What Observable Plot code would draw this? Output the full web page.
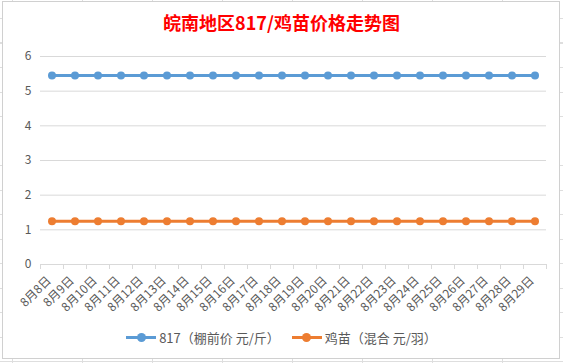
<!DOCTYPE html>
<html>
<head>
<meta charset="utf-8">
<script src="https://cdn.jsdelivr.net/npm/d3@7"></script>
<script src="https://cdn.jsdelivr.net/npm/@observablehq/plot@0.6"></script>
<style>
  html, body { margin: 0; padding: 0; background: #fff; }
  #page {
    position: relative; width: 563px; height: 363px; overflow: hidden;
    background-color: #fff;
    background-image:
      repeating-linear-gradient(to right, transparent 0 12px, #dedede 12px 13px, transparent 13px 70px),
      repeating-linear-gradient(to bottom, transparent 0 18px, #dedede 18px 19px, transparent 19px 24.5px);
    font-family: "Noto Sans CJK SC", "Noto Sans", sans-serif;
  }
  #chart {
    position: absolute; left: 2px; top: 1px; width: 556px; height: 356px;
    background: #fff; border: 1px solid #d0d0d0;
  }
  #title {
    position: absolute; left: 0; top: 10px; width: 563px; text-align: center;
    color: #ff0000; font-weight: bold; font-size: 18px; line-height: 24px;
    font-family: "Noto Sans CJK SC", sans-serif;
  }
  #plot { position: absolute; left: 0; top: 0; }
  #legend {
    position: absolute; left: 0; top: 327px; width: 563px; height: 20px;
    display: flex; justify-content: center; align-items: center;
    font-size: 13px; color: #595959; gap: 0;
  }
  .item { display: flex; align-items: center; margin: 0 6px; }
  .sw { position: relative; width: 30px; height: 10px; margin-right: 3px; }
  .sw .ln { position: absolute; left: 0; top: 3.5px; width: 30px; height: 3px; }
  .sw .dt { position: absolute; left: 10.5px; top: 0.5px; width: 9px; height: 9px; border-radius: 50%; }
</style>
</head>
<body>
<div id="page">
  <div id="chart"></div>
  <div id="plot"></div>
  <div id="title">皖南地区817/鸡苗价格走势图</div>
  <div id="legend"></div>
</div>
<script>
const categories = ["8月8日","8月9日","8月10日","8月11日","8月12日","8月13日","8月14日","8月15日","8月16日","8月17日","8月18日","8月19日","8月20日","8月21日","8月22日","8月23日","8月24日","8月25日","8月26日","8月27日","8月28日","8月29日"];
const series817 = [5.45,5.45,5.45,5.45,5.45,5.45,5.45,5.45,5.45,5.45,5.45,5.45,5.45,5.45,5.45,5.45,5.45,5.45,5.45,5.45,5.45,5.45];
const seriesChick = [1.25,1.25,1.25,1.25,1.25,1.25,1.25,1.25,1.25,1.25,1.25,1.25,1.25,1.25,1.25,1.25,1.25,1.25,1.25,1.25,1.25,1.25];
const seriesNames = ["817（棚前价 元/斤）", "鸡苗（混合 元/羽）"];
const seriesColors = ["#5b9bd5", "#ed7d31"];
const yTicks = [0,1,2,3,4,5,6];

const data = [];
categories.forEach((c, i) => {
  data.push({i, cat: c, value: series817[i], s: seriesNames[0]});
  data.push({i, cat: c, value: seriesChick[i], s: seriesNames[1]});
});
const idx = categories.map((_, i) => i);
const bounds = d3.range(categories.length + 1).map(i => i - 0.5);

const chart = Plot.plot({
  width: 563,
  height: 320,
  marginLeft: 40,
  marginRight: 17,
  marginTop: 56,
  marginBottom: 56,
  style: {fontFamily: '"Noto Sans CJK SC", sans-serif', fontSize: "12px", color: "#595959", background: "transparent"},
  x: {type: "linear", domain: [-0.5, categories.length - 0.5], label: null},
  y: {domain: [0, 6], label: null},
  color: {domain: seriesNames, range: seriesColors},
  marks: [
    Plot.gridY(yTicks.filter(d => d > 0), {stroke: "#d9d9d9", strokeOpacity: 1}),
    Plot.axisY(yTicks, {tickSize: 0, tickPadding: 9, label: null, fill: "#595959", fontSize: 12}),
    Plot.ruleY([0], {stroke: "#d9d9d9", strokeWidth: 1}),
    Plot.ruleX(bounds, {x: d => d, y1: 0, y2: 0, insetBottom: -5, stroke: "#d9d9d9"}),
    Plot.axisX(idx, {tickSize: 0, tickRotate: -45, tickPadding: 14, dx: -3, tickFormat: d => categories[d], label: null, fill: "#595959", fontSize: 12}),
    Plot.line(data, {x: "i", y: "value", z: "s", stroke: "s", strokeWidth: 3}),
    Plot.dot(data, {x: "i", y: "value", fill: "s", r: 4, stroke: "none"})
  ]
});
document.getElementById("plot").appendChild(chart);

const legend = document.getElementById("legend");
seriesNames.forEach((n, k) => {
  const item = document.createElement("div");
  item.className = "item";
  item.innerHTML = `<div class="sw"><div class="ln" style="background:${seriesColors[k]}"></div><div class="dt" style="background:${seriesColors[k]}"></div></div><span>${n}</span>`;
  legend.appendChild(item);
});
</script>
</body>
</html>
